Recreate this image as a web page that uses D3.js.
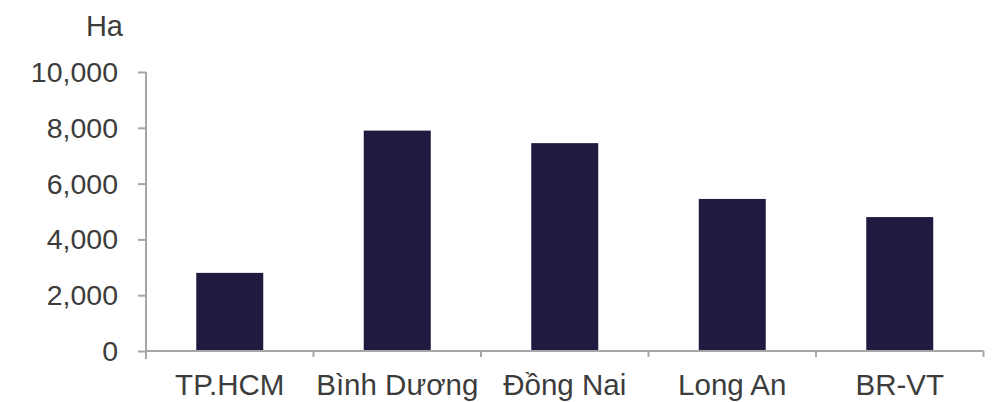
<!DOCTYPE html>
<html><head><meta charset="utf-8">
<script src="https://cdn.jsdelivr.net/npm/d3@7"></script>
<style>body{margin:0;background:#fff}svg{display:block}text{font-family:"Liberation Sans",Arial,sans-serif}</style>
</head><body>
<svg id="c" width="1000" height="402"></svg>
<script>
const categories = ["TP.HCM", "Bình Dương", "Đồng Nai", "Long An", "BR-VT"];
const values = [2800, 7900, 7450, 5450, 4800];
const yTicks = [0, 2000, 4000, 6000, 8000, 10000];
const unitLabel = "Ha";

(function(){
const svg = d3.select("#c");
const axisColor = "#a6a6a6", textColor = "#3c3c3c", barColor = "#1f1a40";
const mLeft = 146, mRight = 983.5, mTop = 72, mBottom = 351;
const x = d3.scaleBand().domain(categories).range([mLeft, mRight]).paddingInner(0.6).paddingOuter(0.3);
const y = d3.scaleLinear().domain([0, 10000]).range([mBottom, mTop]);

// bars
svg.selectAll("rect.bar").data(values).join("rect").attr("class","bar")
  .attr("x",(d,i)=>x(categories[i])).attr("width",x.bandwidth())
  .attr("y",d=>y(d)).attr("height",d=>y(0)-y(d)).attr("fill",barColor);

// y axis
const ya = svg.append("g").attr("transform",`translate(${mLeft},0)`)
  .call(d3.axisLeft(y).tickValues(yTicks).tickFormat(d3.format(",")).tickSize(8).tickSizeOuter(0).tickPadding(20));
ya.select(".domain").remove();
ya.selectAll(".tick line").attr("stroke",axisColor).attr("stroke-width",2);
ya.selectAll(".tick text").attr("fill",textColor).style("font-size","28.5px").attr("dy","0.33em");
ya.append("line").attr("x1",0).attr("x2",0).attr("y1",y(10000)).attr("y2",mBottom+8).attr("stroke",axisColor).attr("stroke-width",2);

// x axis
const off = (x.step()-x.bandwidth())/2;
const bounds = categories.map(c=>x(c)-off).concat([x(categories[categories.length-1])+x.bandwidth()+off]);
const xa = svg.append("g");
xa.append("line").attr("x1",mLeft).attr("x2",bounds[bounds.length-1]).attr("y1",mBottom).attr("y2",mBottom).attr("stroke",axisColor).attr("stroke-width",2);
xa.selectAll("line.t").data(bounds.slice(1)).join("line").attr("class","t")
  .attr("x1",d=>d).attr("x2",d=>d).attr("y1",mBottom).attr("y2",mBottom+6).attr("stroke",axisColor).attr("stroke-width",2);
xa.selectAll("text").data(categories).join("text")
  .attr("x",d=>x(d)+x.bandwidth()/2).attr("y",395).attr("text-anchor","middle")
  .attr("fill",textColor).style("font-size","29.5px").text(d=>d);

// unit label
svg.append("text").attr("x",123).attr("y",36).attr("text-anchor","end").attr("fill",textColor).style("font-size","29px").text(unitLabel);
})();
</script>
</body></html>
